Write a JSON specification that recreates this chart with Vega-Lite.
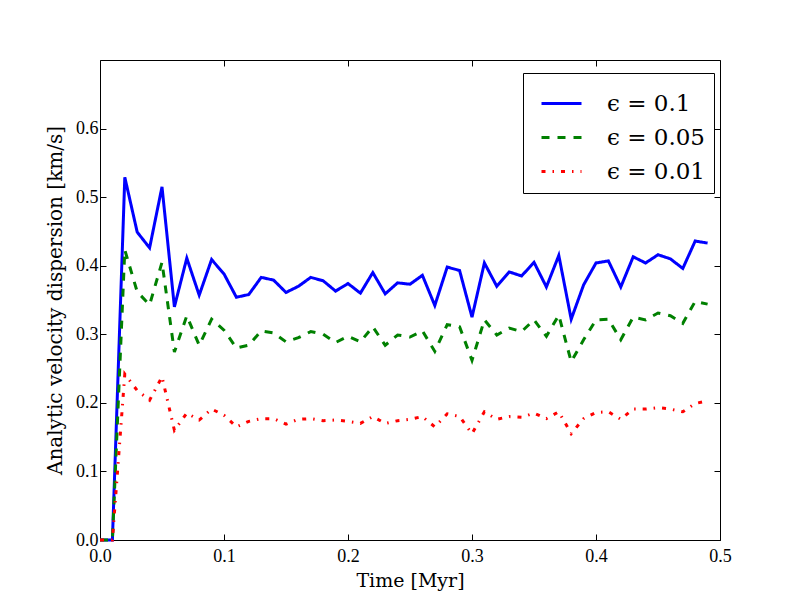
{
  "$schema": "https://vega.github.io/schema/vega-lite/v6.json",
  "width": 620,
  "height": 480,
  "autosize": "none",
  "padding": {"left": 100, "top": 60, "right": 80, "bottom": 60},
  "background": "white",
  "config": {
    "view": {"stroke": null},
    "axis": {
      "grid": false,
      "domainColor": "black",
      "domainWidth": 1,
      "tickColor": "black",
      "tickSize": -6,
      "labelFlush": false,
      "labelFont": "Liberation Serif",
      "labelFontSize": 18,
      "labelColor": "black",
      "labelPadding": 8,
      "titleFont": "DejaVu Serif",
      "titleFontSize": 20,
      "titleFontWeight": "normal",
      "titleColor": "black"
    },
    "legend": {
      "orient": "none",
      "legendX": 423,
      "legendY": 13,
      "strokeColor": "black",
      "fillColor": "white",
      "padding": 9,
      "symbolType": "stroke",
      "symbolSize": 1600,
      "symbolStrokeWidth": 3,
      "symbolOffset": 8,
      "labelFont": "DejaVu Serif",
      "labelFontSize": 23,
      "labelColor": "black",
      "labelOffset": 24,
      "rowPadding": -5,
      "labelLimit": 200
    }
  },
  "data": {
    "values": [
      {"t": 0.00, "eps": "ϵ = 0.1", "v": 0},
      {"t": 0.01, "eps": "ϵ = 0.1", "v": 0},
      {"t": 0.02, "eps": "ϵ = 0.1", "v": 0.529},
      {"t": 0.03, "eps": "ϵ = 0.1", "v": 0.449},
      {"t": 0.04, "eps": "ϵ = 0.1", "v": 0.426},
      {"t": 0.05, "eps": "ϵ = 0.1", "v": 0.515},
      {"t": 0.06, "eps": "ϵ = 0.1", "v": 0.340},
      {"t": 0.07, "eps": "ϵ = 0.1", "v": 0.411},
      {"t": 0.08, "eps": "ϵ = 0.1", "v": 0.357},
      {"t": 0.09, "eps": "ϵ = 0.1", "v": 0.409},
      {"t": 0.10, "eps": "ϵ = 0.1", "v": 0.388},
      {"t": 0.11, "eps": "ϵ = 0.1", "v": 0.354},
      {"t": 0.12, "eps": "ϵ = 0.1", "v": 0.358},
      {"t": 0.13, "eps": "ϵ = 0.1", "v": 0.383},
      {"t": 0.14, "eps": "ϵ = 0.1", "v": 0.379},
      {"t": 0.15, "eps": "ϵ = 0.1", "v": 0.361},
      {"t": 0.16, "eps": "ϵ = 0.1", "v": 0.370},
      {"t": 0.17, "eps": "ϵ = 0.1", "v": 0.383},
      {"t": 0.18, "eps": "ϵ = 0.1", "v": 0.378},
      {"t": 0.19, "eps": "ϵ = 0.1", "v": 0.363},
      {"t": 0.20, "eps": "ϵ = 0.1", "v": 0.374},
      {"t": 0.21, "eps": "ϵ = 0.1", "v": 0.360},
      {"t": 0.22, "eps": "ϵ = 0.1", "v": 0.390},
      {"t": 0.23, "eps": "ϵ = 0.1", "v": 0.359},
      {"t": 0.24, "eps": "ϵ = 0.1", "v": 0.375},
      {"t": 0.25, "eps": "ϵ = 0.1", "v": 0.373},
      {"t": 0.26, "eps": "ϵ = 0.1", "v": 0.386},
      {"t": 0.27, "eps": "ϵ = 0.1", "v": 0.342},
      {"t": 0.28, "eps": "ϵ = 0.1", "v": 0.398},
      {"t": 0.29, "eps": "ϵ = 0.1", "v": 0.393},
      {"t": 0.30, "eps": "ϵ = 0.1", "v": 0.325},
      {"t": 0.31, "eps": "ϵ = 0.1", "v": 0.404},
      {"t": 0.32, "eps": "ϵ = 0.1", "v": 0.370},
      {"t": 0.33, "eps": "ϵ = 0.1", "v": 0.391},
      {"t": 0.34, "eps": "ϵ = 0.1", "v": 0.385},
      {"t": 0.35, "eps": "ϵ = 0.1", "v": 0.405},
      {"t": 0.36, "eps": "ϵ = 0.1", "v": 0.369},
      {"t": 0.37, "eps": "ϵ = 0.1", "v": 0.415},
      {"t": 0.38, "eps": "ϵ = 0.1", "v": 0.322},
      {"t": 0.39, "eps": "ϵ = 0.1", "v": 0.372},
      {"t": 0.40, "eps": "ϵ = 0.1", "v": 0.404},
      {"t": 0.41, "eps": "ϵ = 0.1", "v": 0.407},
      {"t": 0.42, "eps": "ϵ = 0.1", "v": 0.369},
      {"t": 0.43, "eps": "ϵ = 0.1", "v": 0.413},
      {"t": 0.44, "eps": "ϵ = 0.1", "v": 0.404},
      {"t": 0.45, "eps": "ϵ = 0.1", "v": 0.416},
      {"t": 0.46, "eps": "ϵ = 0.1", "v": 0.410},
      {"t": 0.47, "eps": "ϵ = 0.1", "v": 0.396},
      {"t": 0.48, "eps": "ϵ = 0.1", "v": 0.436},
      {"t": 0.49, "eps": "ϵ = 0.1", "v": 0.433},
      {"t": 0.00, "eps": "ϵ = 0.05", "v": 0},
      {"t": 0.01, "eps": "ϵ = 0.05", "v": 0},
      {"t": 0.02, "eps": "ϵ = 0.05", "v": 0.423},
      {"t": 0.03, "eps": "ϵ = 0.05", "v": 0.362},
      {"t": 0.04, "eps": "ϵ = 0.05", "v": 0.343},
      {"t": 0.05, "eps": "ϵ = 0.05", "v": 0.405},
      {"t": 0.06, "eps": "ϵ = 0.05", "v": 0.274},
      {"t": 0.07, "eps": "ϵ = 0.05", "v": 0.327},
      {"t": 0.08, "eps": "ϵ = 0.05", "v": 0.284},
      {"t": 0.09, "eps": "ϵ = 0.05", "v": 0.322},
      {"t": 0.10, "eps": "ϵ = 0.05", "v": 0.306},
      {"t": 0.11, "eps": "ϵ = 0.05", "v": 0.280},
      {"t": 0.12, "eps": "ϵ = 0.05", "v": 0.284},
      {"t": 0.13, "eps": "ϵ = 0.05", "v": 0.305},
      {"t": 0.14, "eps": "ϵ = 0.05", "v": 0.302},
      {"t": 0.15, "eps": "ϵ = 0.05", "v": 0.289},
      {"t": 0.16, "eps": "ϵ = 0.05", "v": 0.295},
      {"t": 0.17, "eps": "ϵ = 0.05", "v": 0.304},
      {"t": 0.18, "eps": "ϵ = 0.05", "v": 0.300},
      {"t": 0.19, "eps": "ϵ = 0.05", "v": 0.288},
      {"t": 0.20, "eps": "ϵ = 0.05", "v": 0.297},
      {"t": 0.21, "eps": "ϵ = 0.05", "v": 0.289},
      {"t": 0.22, "eps": "ϵ = 0.05", "v": 0.311},
      {"t": 0.23, "eps": "ϵ = 0.05", "v": 0.284},
      {"t": 0.24, "eps": "ϵ = 0.05", "v": 0.299},
      {"t": 0.25, "eps": "ϵ = 0.05", "v": 0.296},
      {"t": 0.26, "eps": "ϵ = 0.05", "v": 0.305},
      {"t": 0.27, "eps": "ϵ = 0.05", "v": 0.275},
      {"t": 0.28, "eps": "ϵ = 0.05", "v": 0.314},
      {"t": 0.29, "eps": "ϵ = 0.05", "v": 0.311},
      {"t": 0.30, "eps": "ϵ = 0.05", "v": 0.262},
      {"t": 0.31, "eps": "ϵ = 0.05", "v": 0.321},
      {"t": 0.32, "eps": "ϵ = 0.05", "v": 0.299},
      {"t": 0.33, "eps": "ϵ = 0.05", "v": 0.309},
      {"t": 0.34, "eps": "ϵ = 0.05", "v": 0.304},
      {"t": 0.35, "eps": "ϵ = 0.05", "v": 0.321},
      {"t": 0.36, "eps": "ϵ = 0.05", "v": 0.297},
      {"t": 0.37, "eps": "ϵ = 0.05", "v": 0.328},
      {"t": 0.38, "eps": "ϵ = 0.05", "v": 0.260},
      {"t": 0.39, "eps": "ϵ = 0.05", "v": 0.292},
      {"t": 0.40, "eps": "ϵ = 0.05", "v": 0.321},
      {"t": 0.41, "eps": "ϵ = 0.05", "v": 0.322},
      {"t": 0.42, "eps": "ϵ = 0.05", "v": 0.292},
      {"t": 0.43, "eps": "ϵ = 0.05", "v": 0.325},
      {"t": 0.44, "eps": "ϵ = 0.05", "v": 0.321},
      {"t": 0.45, "eps": "ϵ = 0.05", "v": 0.331},
      {"t": 0.46, "eps": "ϵ = 0.05", "v": 0.327},
      {"t": 0.47, "eps": "ϵ = 0.05", "v": 0.316},
      {"t": 0.48, "eps": "ϵ = 0.05", "v": 0.348},
      {"t": 0.49, "eps": "ϵ = 0.05", "v": 0.344},
      {"t": 0.00, "eps": "ϵ = 0.01", "v": 0},
      {"t": 0.01, "eps": "ϵ = 0.01", "v": 0},
      {"t": 0.02, "eps": "ϵ = 0.01", "v": 0.242},
      {"t": 0.03, "eps": "ϵ = 0.01", "v": 0.218},
      {"t": 0.04, "eps": "ϵ = 0.01", "v": 0.204},
      {"t": 0.05, "eps": "ϵ = 0.01", "v": 0.238},
      {"t": 0.06, "eps": "ϵ = 0.01", "v": 0.160},
      {"t": 0.07, "eps": "ϵ = 0.01", "v": 0.185},
      {"t": 0.08, "eps": "ϵ = 0.01", "v": 0.175},
      {"t": 0.09, "eps": "ϵ = 0.01", "v": 0.191},
      {"t": 0.10, "eps": "ϵ = 0.01", "v": 0.182},
      {"t": 0.11, "eps": "ϵ = 0.01", "v": 0.165},
      {"t": 0.12, "eps": "ϵ = 0.01", "v": 0.173},
      {"t": 0.13, "eps": "ϵ = 0.01", "v": 0.177},
      {"t": 0.14, "eps": "ϵ = 0.01", "v": 0.177},
      {"t": 0.15, "eps": "ϵ = 0.01", "v": 0.169},
      {"t": 0.16, "eps": "ϵ = 0.01", "v": 0.176},
      {"t": 0.17, "eps": "ϵ = 0.01", "v": 0.177},
      {"t": 0.18, "eps": "ϵ = 0.01", "v": 0.174},
      {"t": 0.19, "eps": "ϵ = 0.01", "v": 0.175},
      {"t": 0.20, "eps": "ϵ = 0.01", "v": 0.173},
      {"t": 0.21, "eps": "ϵ = 0.01", "v": 0.170},
      {"t": 0.22, "eps": "ϵ = 0.01", "v": 0.180},
      {"t": 0.23, "eps": "ϵ = 0.01", "v": 0.170},
      {"t": 0.24, "eps": "ϵ = 0.01", "v": 0.174},
      {"t": 0.25, "eps": "ϵ = 0.01", "v": 0.176},
      {"t": 0.26, "eps": "ϵ = 0.01", "v": 0.180},
      {"t": 0.27, "eps": "ϵ = 0.01", "v": 0.165},
      {"t": 0.28, "eps": "ϵ = 0.01", "v": 0.184},
      {"t": 0.29, "eps": "ϵ = 0.01", "v": 0.180},
      {"t": 0.30, "eps": "ϵ = 0.01", "v": 0.155},
      {"t": 0.31, "eps": "ϵ = 0.01", "v": 0.187},
      {"t": 0.32, "eps": "ϵ = 0.01", "v": 0.176},
      {"t": 0.33, "eps": "ϵ = 0.01", "v": 0.180},
      {"t": 0.34, "eps": "ϵ = 0.01", "v": 0.179},
      {"t": 0.35, "eps": "ϵ = 0.01", "v": 0.185},
      {"t": 0.36, "eps": "ϵ = 0.01", "v": 0.177},
      {"t": 0.37, "eps": "ϵ = 0.01", "v": 0.187},
      {"t": 0.38, "eps": "ϵ = 0.01", "v": 0.155},
      {"t": 0.39, "eps": "ϵ = 0.01", "v": 0.177},
      {"t": 0.40, "eps": "ϵ = 0.01", "v": 0.186},
      {"t": 0.41, "eps": "ϵ = 0.01", "v": 0.187},
      {"t": 0.42, "eps": "ϵ = 0.01", "v": 0.176},
      {"t": 0.43, "eps": "ϵ = 0.01", "v": 0.191},
      {"t": 0.44, "eps": "ϵ = 0.01", "v": 0.191},
      {"t": 0.45, "eps": "ϵ = 0.01", "v": 0.193},
      {"t": 0.46, "eps": "ϵ = 0.01", "v": 0.191},
      {"t": 0.47, "eps": "ϵ = 0.01", "v": 0.187},
      {"t": 0.48, "eps": "ϵ = 0.01", "v": 0.199},
      {"t": 0.49, "eps": "ϵ = 0.01", "v": 0.203}
    ]
  },
  "layer": [
    {
      "mark": {"type": "line", "strokeWidth": 3},
      "encoding": {
        "x": {
          "field": "t",
          "type": "quantitative",
          "scale": {"domain": [0, 0.5], "nice": false},
          "axis": {"values": [0, 0.1, 0.2, 0.3, 0.4, 0.5], "format": ".1f", "title": "Time [Myr]", "titleFontSize": 19, "titlePadding": 6, "labelPadding": 13}
        },
        "y": {
          "field": "v",
          "type": "quantitative",
          "scale": {"domain": [0, 0.7], "nice": false},
          "axis": {"values": [0, 0.1, 0.2, 0.3, 0.4, 0.5, 0.6], "format": ".1f", "title": "Analytic velocity dispersion [km/s]", "titlePadding": 10}
        },
        "color": {
          "field": "eps",
          "type": "nominal",
          "scale": {"domain": ["ϵ = 0.1", "ϵ = 0.05", "ϵ = 0.01"], "range": ["#0000ff", "#008000", "#ff0000"]},
          "legend": {"title": null}
        },
        "strokeDash": {
          "field": "eps",
          "type": "nominal",
          "scale": {"domain": ["ϵ = 0.1", "ϵ = 0.05", "ϵ = 0.01"], "range": [[1, 0], [8, 8], [4, 7, 1.5, 7]]},
          "legend": {"title": null}
        }
      }
    },
    {
      "mark": {"type": "line", "opacity": 0},
      "encoding": {
        "x": {"field": "t", "type": "quantitative", "axis": {"values": [0, 0.1, 0.2, 0.3, 0.4, 0.5], "labels": false, "title": null}},
        "y": {"field": "v", "type": "quantitative", "axis": {"values": [0, 0.1, 0.2, 0.3, 0.4, 0.5, 0.6], "labels": false, "title": null}},
        "detail": {"field": "eps"}
      }
    }
  ],
  "resolve": {"axis": {"x": "independent", "y": "independent"}}
}
